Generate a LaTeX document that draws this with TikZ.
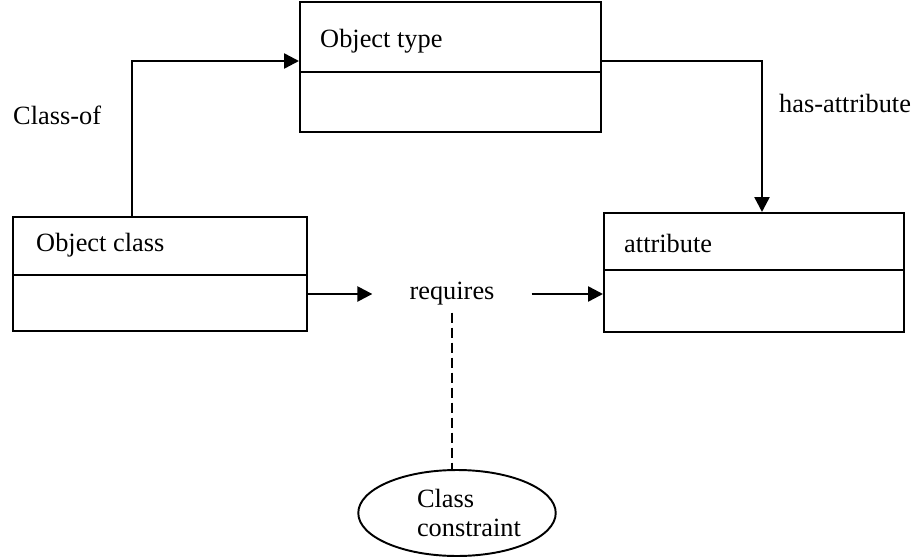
\documentclass[tikz,border=0pt]{standalone}
\usepackage{fontspec}
\setmainfont{Liberation Serif}
\usetikzlibrary{arrows.meta,shapes.geometric}

\tikzset{
  classbox/.style={draw, inner sep=0pt, anchor=north west},
  boxtext/.style={anchor=west, inner sep=0pt},
}

\begin{document}
\begin{tikzpicture}[x=0.02cm, y=-0.02cm, line width=1.4pt,
  >={Triangle[length=0.3cm,width=0.3cm]},
  font=\fontsize{15}{17}\selectfont]
\useasboundingbox (0,0) rectangle (915,557);

% boxes
\node (otype) [classbox, minimum width=6.02cm, minimum height=2.6cm] at (299,1) {};
\node (oclass) [classbox, minimum width=5.88cm, minimum height=2.28cm] at (12,216) {};
\node (attr) [classbox, minimum width=6cm, minimum height=2.38cm] at (603,212) {};
\draw (otype.west |- 0,72) -- (otype.east |- 0,72);
\draw (oclass.west |- 0,275) -- (oclass.east |- 0,275);
\draw (attr.west |- 0,270) -- (attr.east |- 0,270);

\node (otypetxt) [boxtext] at (319,41) {Object type};
\node (oclasstxt) [boxtext] at (35,245) {Object class};
\node (attrtxt) [boxtext] at (623,243) {attribute};

% relations
\coordinate (classof) at (132,61);
\coordinate (hasattr) at (762,61);
\node (classoflbl) [boxtext] at (12,115) {Class-of};
\node (hasattrlbl) [boxtext] at (778,103) {has-attribute};
\draw [->] (oclass.north -| classof) |- (otype.west |- classof);
\draw [->] (otype.east |- hasattr) -| (attr.north -| hasattr);

\node (req) [inner xsep=0.72cm] at (452,294) {requires};
\draw [->] (oclass.east |- req) -- (req.west);
\draw [->] (req.east) -- (attr.west |- req);

\node (cons) [draw, line width=1.1pt, ellipse, align=left, minimum width=3.88cm, minimum height=1.72cm] at (457,513) {\hspace*{0.48cm}Class\\\hspace*{0.48cm}constraint};
\draw [dash pattern=on 0.2cm off 0.1cm] (req.south) -- (req.south |- cons.north);
\end{tikzpicture}
\end{document}
